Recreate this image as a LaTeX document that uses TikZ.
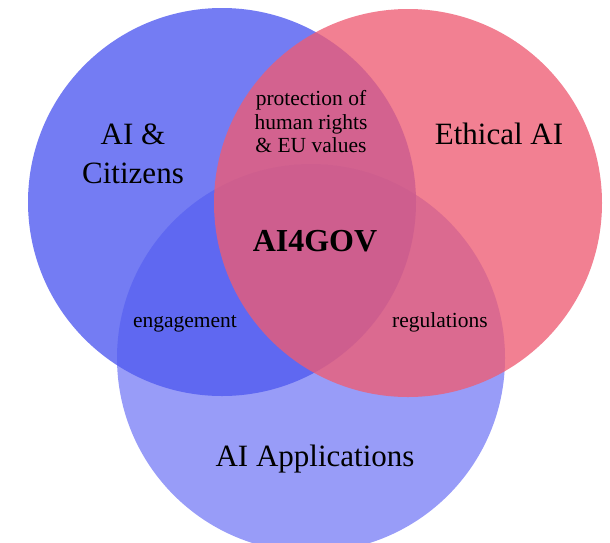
\documentclass[tikz,border=0pt]{standalone}
\usepackage{fontspec}
\setmainfont{Liberation Serif}
\usetikzlibrary{positioning}
\definecolor{citizenblue}{RGB}{81,91,240}
\definecolor{ethicpink}{RGB}{238,92,115}
\definecolor{appblue}{RGB}{152,156,248}
\begin{document}
\begin{tikzpicture}[
                x=1pt, y=-1pt,
                set/.style={circle,inner sep=0pt,minimum size=388pt},
                bigtext/.style={font=\fontsize{31}{39}\selectfont,align=center},
                smalltext/.style={font=\fontsize{21.5}{23.5}\selectfont,align=center}
            ]
                \useasboundingbox (0,0) rectangle (610,542);
                % the three sets
                \node (apps)     [set,fill=appblue]                      at (311,358) {};
                \node (citizens) [set,fill=citizenblue,fill opacity=0.8] at (222,202) {};
                \node (ethics)   [set,fill=ethicpink,fill opacity=0.78]  at (408,203) {};
                % set names
                \node (citlabel) [bigtext]             at (133,153.5) {AI \&\\Citizens};
                \node (ethlabel) [bigtext,anchor=base] at (499,144.6) {Ethical AI};
                \node (applabel) [bigtext,anchor=base] at (315,466)   {AI Applications};
                % overlaps
                \node (rights)   [smalltext]             at (311,121.6) {protection of\\human rights\\\& EU values};
                \node (engage)   [smalltext,anchor=base] at (185,327)   {engagement};
                \node (regul)    [smalltext,anchor=base] at (440,327)   {regulations};
                \node (core)     [bigtext,anchor=base,font=\fontsize{32}{39}\selectfont\bfseries] at (315,251) {AI4GOV};
            \end{tikzpicture}
\end{document}
